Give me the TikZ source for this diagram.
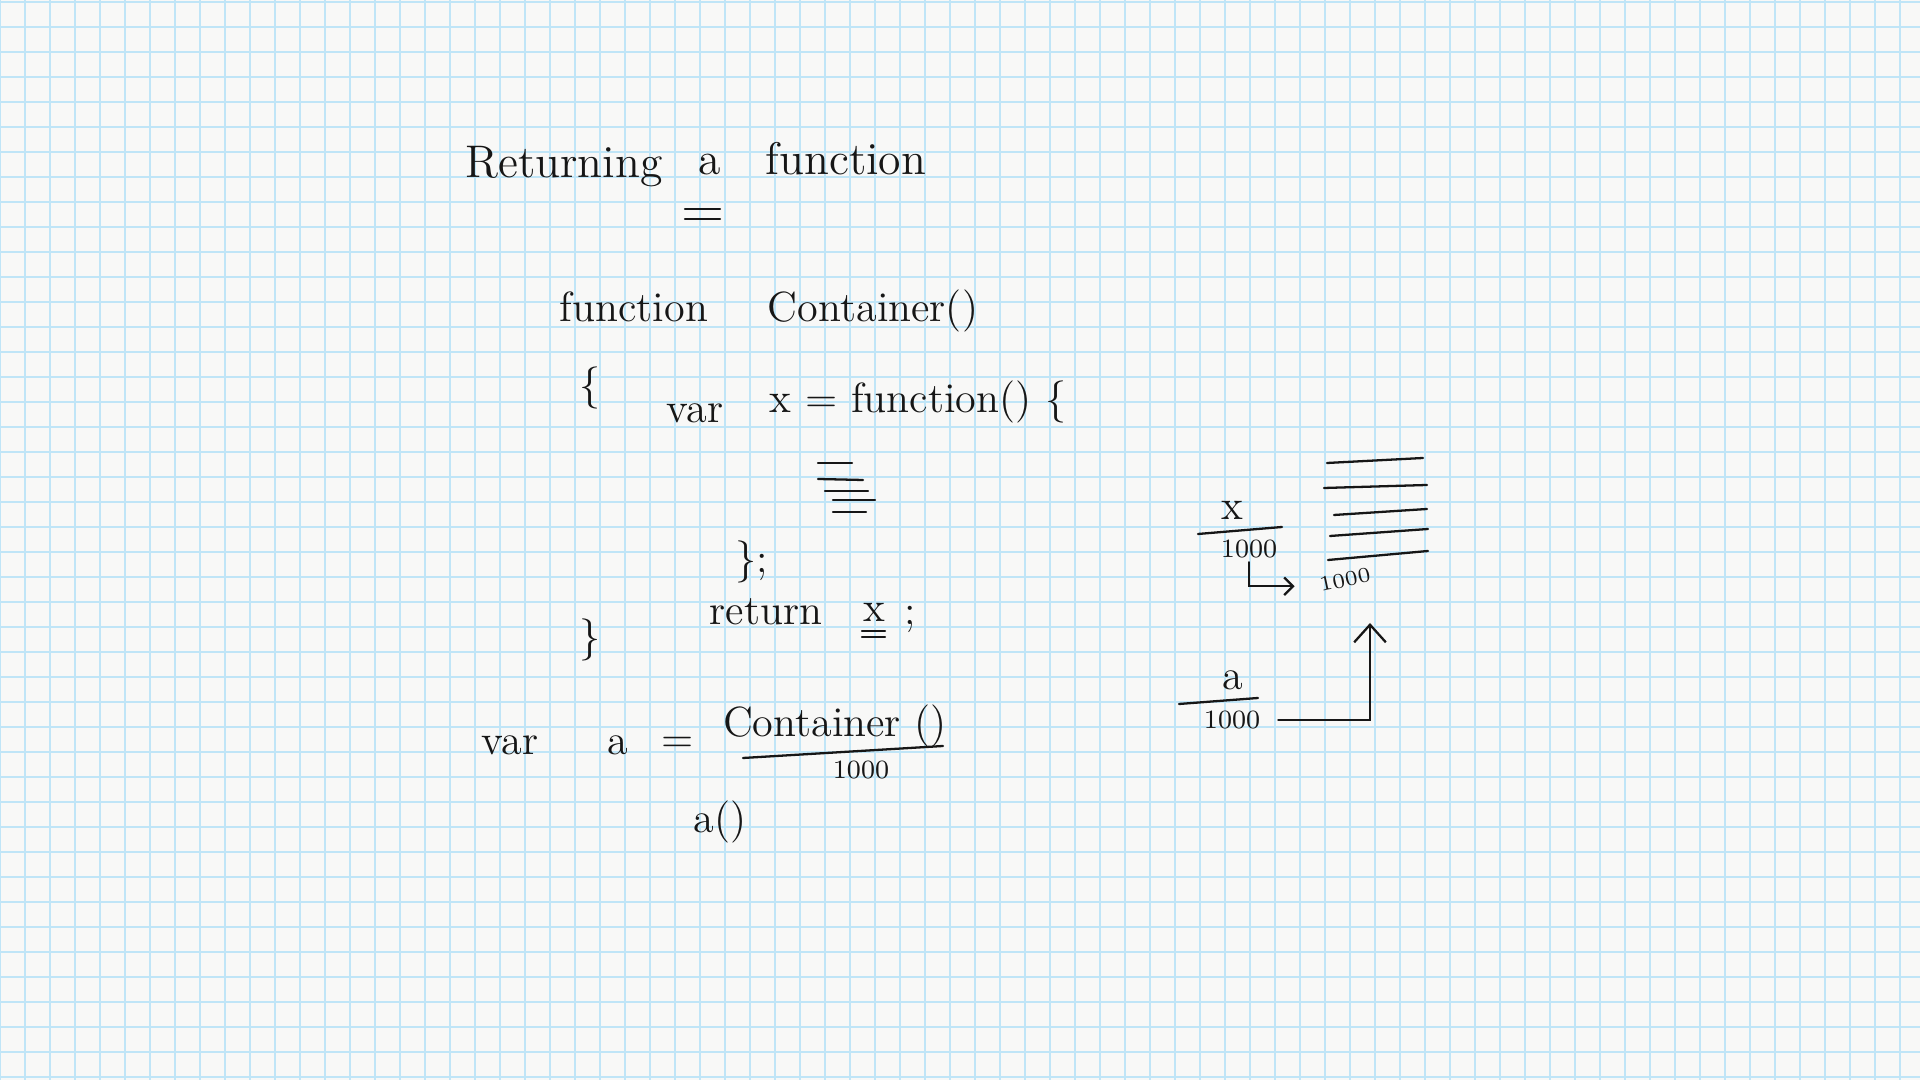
\documentclass[tikz,border=0pt]{standalone}
\usepackage{tikz}
\usetikzlibrary{arrows.meta, positioning}
\definecolor{paper}{RGB}{248,248,247}
\definecolor{gridblue}{RGB}{192,229,247}
\definecolor{ink}{RGB}{22,22,22}
\tikzset{
  hand/.style = {text=ink, inner sep=1pt, font=\fontsize{12}{14}\selectfont},
  title/.style = {hand, font=\fontsize{13}{15}\selectfont},
  denom/.style = {hand, font=\fontsize{7.5}{9}\selectfont},
  stroke/.style = {draw=ink, line width=0.65pt, line cap=round},
  line/.style = {stroke, -{Straight Barb[length=5pt, width=9pt]}},
  smallline/.style = {stroke, -{Straight Barb[length=2.5pt, width=5pt]}},
  gridline/.style = {draw=gridblue, line width=0.6pt}
}
\begin{document}
\begin{tikzpicture}[x=0.01cm, y=-0.01cm]

    % Paper
    \fill[paper] (0,0) rectangle (1920,1080);
    \useasboundingbox (0,0) rectangle (1920,1080);
    \foreach \i in {0,...,76} \draw[gridline] (\i*25,0) -- (\i*25,1080);
    \foreach \j in {0,...,43} \draw[gridline] (0,2+\j*25) -- (1920,2+\j*25);

    % Title
    \node[title, anchor=base] (ret) at (564,178) {Returning};
    \node[title, anchor=base] (arta) at (710,175) {a};
    \node[title, anchor=base] (fun) at (846,175) {function};
    \draw[stroke] (685,209) -- (720,209) (685,219) -- (720,219);

    % Function body
    \node[hand, anchor=base] (kw) at (634,322) {function};
    \node[hand, anchor=base] (cont) at (873,322) {Container()};
    \node[hand] (open) at (590,388) {\{};
    \node[hand, anchor=base] (var) at (695,423) {var};
    \node[hand, anchor=base] (xdef) at (918,413) {x = function() \{};
    \draw[stroke] (818,463) -- (852,463);
    \draw[stroke] (818,479) -- (863,480);
    \draw[stroke] (825,491) -- (868,491);
    \draw[stroke] (833,500) -- (875,500);
    \draw[stroke] (833,512) -- (866,512);
    \node[hand] (close) at (752,562) {\};};
    \node[hand, anchor=base] (retkw) at (766,625) {return};
    \node[hand, anchor=base] (retx) at (874,622) {x};
    \node[hand, anchor=base] (semi) at (910,625) {;};
    \draw[stroke] (862,631) -- (885,631) (862,637) -- (885,637);
    \node[hand] (end) at (590,640) {\}};

    % Call
    \node[hand, anchor=base] (vara) at (510,755) {var};
    \node[hand, anchor=base] (a) at (618,755) {a};
    \node[hand] (eq) at (678,745) {=};
    \node[hand, anchor=base] (num) at (835,737) {Container ()};
    \draw[stroke] (743,758) -- (943,746);
    \node[denom] (den) at (861,770) {1000};
    \node[hand] (call) at (720,822) {a()};

    % Memory
    \node[hand, anchor=base] (xn) at (1232,520) {x};
    \draw[stroke] (1198,534) -- (1282,527);
    \node[denom] (xd) at (1249,549) {1000};
    \node[denom, font=\fontsize{6}{7}\selectfont, rotate=12] (heap) at (1345,580) {1000};
    \draw[stroke] (1327,463) -- (1423,458);
    \draw[stroke] (1324,488) -- (1427,485);
    \draw[stroke] (1334,515) -- (1427,509);
    \draw[stroke] (1330,536) -- (1428,529);
    \draw[stroke] (1328,560) -- (1428,551);
    \node[hand, anchor=base] (an) at (1233,690) {a};
    \draw[stroke] (1179,704) -- (1258,698);
    \node[denom] (ad) at (1232,720) {1000};
    \coordinate (stacktop) at (1370,623);

    % Arrows
    \path [smallline, shorten >=6pt] (xd.south) |- (heap.west);
    \path [line, shorten <=4pt] (ad.east) -| (stacktop);

\end{tikzpicture}
\end{document}
